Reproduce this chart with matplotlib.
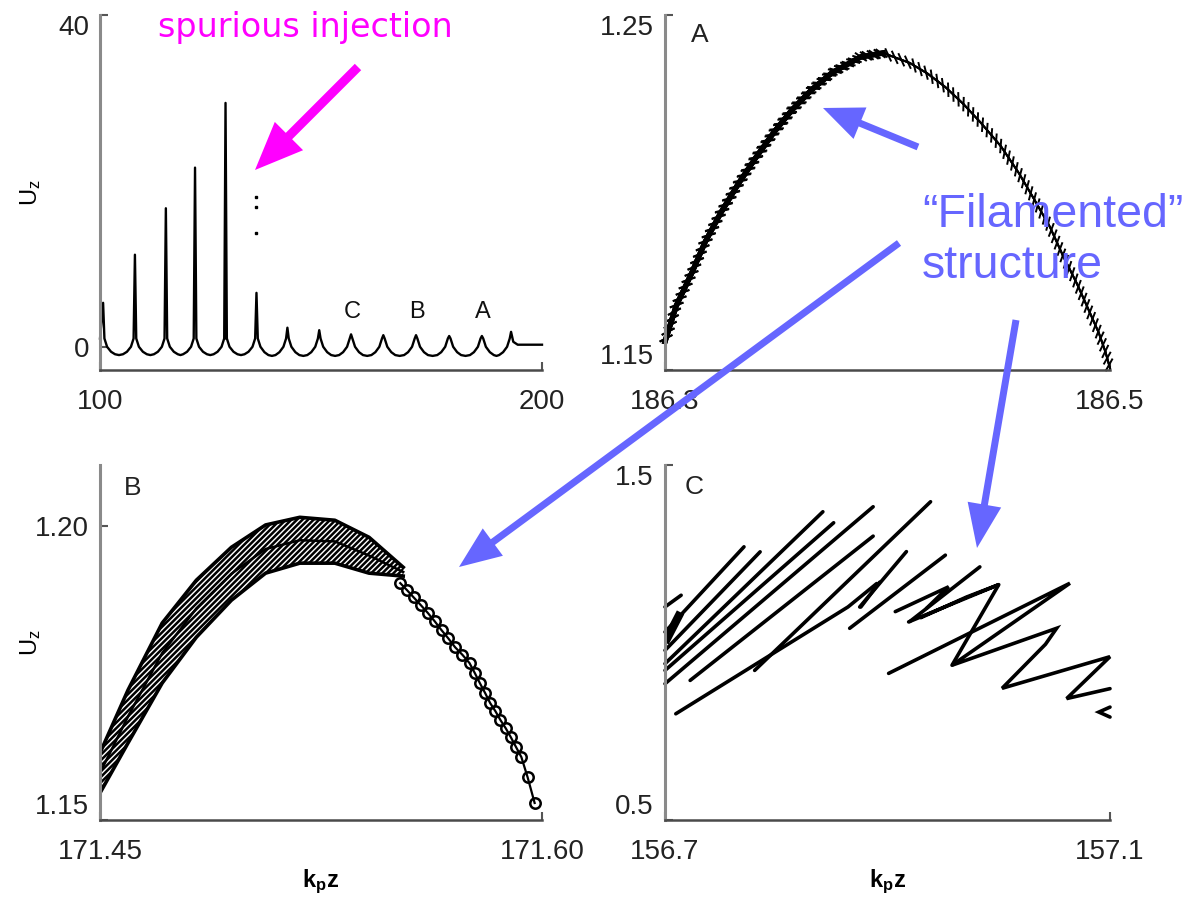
import matplotlib
matplotlib.use('Agg')
import matplotlib.pyplot as plt
from matplotlib import patheffects
from matplotlib.patches import FancyArrow
from matplotlib.transforms import IdentityTransform

plt.rcParams['font.family'] = ['Liberation Sans', 'DejaVu Sans']
plt.rcParams['hatch.linewidth'] = 1.8

# ==== overview: u_z against k_p z (cusps and rounded troughs) ====
main_x = [100.0, 100.7,
          101.0, 101.6, 102.5, 103.4, 104.3, 105.2, 106.1, 107.0, 107.6, 107.9,
          108.2, 108.8, 109.7, 110.6, 111.4, 112.2, 113.1, 114.0, 114.6, 114.9,
          115.2, 115.8, 116.7, 117.6, 118.2, 118.8, 119.7, 120.6, 121.2, 121.5,
          121.8, 122.4, 123.3, 124.2, 124.95, 125.7, 126.6, 127.5, 128.1, 128.4,
          128.7, 129.3, 130.2, 131.1, 131.9, 132.7, 133.6, 134.5, 135.1, 135.4,
          135.7, 136.3, 137.2, 138.1, 138.9, 139.7, 140.6, 141.5, 142.1, 142.4,
          142.7, 143.3, 144.2, 145.1, 146.0, 146.9, 147.8, 148.7, 149.3, 149.6,
          149.9, 150.5, 151.4, 152.3, 153.2, 154.1, 155.0, 155.9, 156.5, 156.8,
          157.1, 157.7, 158.6, 159.5, 160.45, 161.4, 162.3, 163.2, 163.8, 164.1,
          164.4, 165.0, 165.9, 166.8, 167.8, 168.8, 169.7, 170.6, 171.2, 171.5,
          171.8, 172.4, 173.3, 174.2, 175.25, 176.3, 177.2, 178.1, 178.7, 179.0,
          179.3, 179.9, 180.8, 181.7, 182.7, 183.7, 184.6, 185.5, 186.1, 186.4,
          186.7, 187.3, 188.2, 189.1, 189.7, 190.3, 191.2, 192.1, 192.7, 193.0,
          193.5, 194.5, 200.0]
main_y = [1.0, 5.3,
          1.0, 0.0, -0.6, -0.9, -1.0, -0.9, -0.6, 0.0, 1.0, 11.1,
          1.0, 0.0, -0.6, -0.9, -1.0, -0.9, -0.6, 0.0, 1.0, 16.7,
          1.0, 0.0, -0.6, -0.9, -1.0, -0.9, -0.6, 0.0, 1.0, 21.6,
          1.0, 0.0, -0.6, -0.9, -1.0, -0.9, -0.6, 0.0, 1.0, 29.4,
          1.0, 0.0, -0.6, -0.9, -1.0, -0.9, -0.6, 0.0, 1.0, 6.5,
          1.0, 0.0, -0.65, -1.0, -1.1, -1.0, -0.65, 0.0, 1.0, 2.3,
          1.0, 0.0, -0.65, -1.0, -1.1, -1.0, -0.65, 0.0, 1.0, 2.0,
          1.0, 0.0, -0.65, -1.0, -1.1, -1.0, -0.65, 0.0, 1.0, 1.5,
          1.0, 0.0, -0.65, -1.0, -1.1, -1.0, -0.65, 0.0, 1.0, 1.4,
          1.0, 0.0, -0.65, -1.0, -1.1, -1.0, -0.65, 0.0, 1.0, 1.4,
          1.0, 0.0, -0.65, -1.0, -1.1, -1.0, -0.65, 0.0, 1.0, 1.3,
          1.0, 0.0, -0.65, -1.0, -1.1, -1.0, -0.65, 0.0, 1.0, 1.3,
          1.0, 0.0, -0.65, -1.0, -1.1, -1.0, -0.65, 0.0, 1.0, 1.8,
          0.6, 0.25, 0.25]
inner_spike_x = [128.25, 128.35, 128.5]
inner_spike_y = [1.0, 18.7, 1.0]
spurious_x = [135.4, 135.4, 135.4]
spurious_y = [18.0, 16.9, 13.7]
zoom_tags = ['C', 'B', 'A']
zoom_tag_x = [157.0, 171.7, 186.7]
zoom_tag_y = 4.2

# ==== A: 186.3 - 186.5 ====
a_x = [186.300, 186.305, 186.312, 186.318, 186.325, 186.333, 186.341,
       186.349, 186.357, 186.366, 186.375, 186.388, 186.398, 186.410,
       186.418, 186.426, 186.434, 186.442, 186.451, 186.459, 186.466,
       186.473, 186.479, 186.485, 186.490, 186.495, 186.498, 186.500]
a_y = [1.158, 1.168, 1.1773, 1.186, 1.1942, 1.2025, 1.210,
       1.217, 1.2232, 1.229, 1.2337, 1.2382, 1.2393, 1.2365,
       1.2335, 1.2297, 1.225, 1.2196, 1.213, 1.2055, 1.198,
       1.1903, 1.182, 1.1745, 1.1675, 1.1604, 1.155, 1.1505]
a_thick_end = 13   # band is doubled up to about the top of the arc

# ==== B: 171.45 - 171.60 ====
b_x = [171.45, 171.4595, 171.4711, 171.4827, 171.4946, 171.5062,
       171.5178, 171.5297, 171.5413, 171.5529]
b_upper = [1.1614, 1.1721, 1.1835, 1.1908, 1.1964, 1.2002,
           1.2015, 1.2010, 1.1981, 1.1930]
b_mid = [1.1580, 1.1676, 1.1784, 1.1860, 1.1919, 1.1961,
         1.1976, 1.1974, 1.1950, 1.1922]
b_lower = [1.1546, 1.1631, 1.1733, 1.1811, 1.1874, 1.1920,
           1.1937, 1.1937, 1.1920, 1.1915]
b_loop_x = [171.5519, 171.5542, 171.5564, 171.5588, 171.5613, 171.5636,
            171.5659, 171.5682, 171.5705, 171.5730, 171.5754, 171.5772,
            171.5789, 171.5807, 171.5824, 171.5842, 171.5859, 171.5877,
            171.5894, 171.5912, 171.5930, 171.5951, 171.5975]
b_loop_y = [1.1903, 1.1891, 1.1879, 1.1866, 1.1852, 1.1838,
            1.1823, 1.1809, 1.1794, 1.1781, 1.1767, 1.1750,
            1.1733, 1.1716, 1.1699, 1.1685, 1.1670, 1.1656,
            1.1641, 1.1624, 1.1607, 1.1573, 1.1529]

# ==== C: 156.7 - 157.1 (strokes as polylines) ====
c_strokes = [
    ([156.7, 156.7145], [1.1002, 1.1331]),
    ([156.7, 156.7710], [1.0296, 1.2695]),
    ([156.7, 156.7855], [0.9779, 1.2554]),
    ([156.7, 156.8419], [0.9403, 1.3683]),
    ([156.7, 156.8516], [0.9214, 1.3373]),
    ([156.7, 156.8871], [0.8838, 1.3824]),
    ([156.7226, 156.8871], [0.8932, 1.2996]),
    ([156.7806, 156.9387], [0.9214, 1.3965]),
    ([156.7097, 156.8645, 156.8903], [0.7992, 1.1002, 1.1660]),
    ([156.876, 156.893], [1.100, 1.170]),
    ([156.866, 156.952], [1.040, 1.246]),
    ([156.875, 156.917], [1.100, 1.256]),
    ([156.920, 156.983], [1.059, 1.213]),
    ([156.907, 156.955, 156.935], [1.087, 1.157, 1.096]),
    ([156.919, 157.000, 156.971, 156.930], [1.058, 1.163, 1.128, 1.070]),
    ([157.000, 156.958], [1.163, 0.936]),
    ([156.901, 157.064, 156.958, 157.052, 157.042, 157.003, 157.100, 157.061, 157.100],
     [0.913, 1.167, 0.936, 1.040, 0.995, 0.871, 0.960, 0.842, 0.870]),
    ([157.100, 157.090, 157.100], [0.818, 0.804, 0.790]),
]
c_blob_x = [156.7, 156.714]
c_blob_y = [1.00, 1.085]

W, H = 1188, 899
fig = plt.figure(figsize=(W / 100, H / 100), dpi=100)


def box(left, top, right, bottom):
    return [left / W, 1 - bottom / H, (right - left) / W, (bottom - top) / H]


def style_axes(ax, xlim, ylim, xticks, yticks, xlabels, ylabels):
    ax.set_xlim(*xlim)
    ax.set_ylim(*ylim)
    for s in ['top', 'right']:
        ax.spines[s].set_visible(False)
    ax.spines['left'].set_color('#8a8a8a')
    ax.spines['left'].set_linewidth(2.2)
    ax.spines['bottom'].set_color('#4a4a4a')
    ax.spines['bottom'].set_linewidth(1.8)
    ax.set_xticks(xticks)
    ax.set_xticklabels(xlabels)
    ax.set_yticks(yticks)
    ax.set_yticklabels(ylabels)
    ax.tick_params(direction='in', length=6, width=1.5, color='#555555',
                   labelsize=20, labelcolor='#222222')
    ax.tick_params(axis='x', pad=14)
    ax.tick_params(axis='y', pad=8)
    # end labels sit inside the axis span, like the original
    for lab, val in zip(ax.get_yticklabels(), yticks):
        if val == ylim[1]:
            lab.set_va('top')
        elif val == ylim[0]:
            lab.set_va('bottom')


def ylab(ax):
    ax.set_ylabel(r'$\mathregular{U_z}$', fontsize=17)
    ax.yaxis.set_label_coords(-0.13, 0.5)


def xlab(ax):
    ax.set_xlabel(r'$\mathregular{k_pz}$', fontsize=17, fontweight='bold')
    ax.xaxis.set_label_coords(0.5, -0.135)


# ---- overview ----
ax1 = fig.add_axes(box(100, 15, 542, 370))
ax1.plot(main_x, main_y, color='black', lw=1.7, solid_joinstyle='round', clip_on=False)
ax1.plot(inner_spike_x, inner_spike_y, color='black', lw=1.3)
ax1.plot(spurious_x, spurious_y, ls='none', marker='s', ms=2, color='black')
for t, x in zip(zoom_tags, zoom_tag_x):
    ax1.text(x, zoom_tag_y, t, fontsize=17, ha='center', va='center', color='#111111')
style_axes(ax1, (100, 200), (-2.8, 40), [100, 200], [0, 40], ['100', '200'], ['0', '40'])
ylab(ax1)

# ---- A ----
axA = fig.add_axes(box(665, 15, 1110, 370))
teeth = [patheffects.withTickedStroke(spacing=5, angle=135, length=0.9, linewidth=1.4),
         patheffects.withTickedStroke(spacing=5, angle=-45, length=0.9, linewidth=1.4),
         patheffects.Normal()]
axA.plot(a_x[:a_thick_end], a_y[:a_thick_end], color='black', lw=3.8,
         path_effects=teeth, clip_on=False)
axA.plot(a_x, a_y, color='black', lw=1.4, path_effects=teeth, clip_on=False)
axA.text(0.079, 0.944, 'A', transform=axA.transAxes, fontsize=19,
         ha='center', va='center', color='#222222')
style_axes(axA, (186.3, 186.5), (1.15, 1.25), [186.3, 186.5], [1.15, 1.25],
           ['186.3', '186.5'], ['1.15', '1.25'])

# ---- B ----
axB = fig.add_axes(box(100, 465, 542, 820))
axB.fill_between(b_x, b_lower, b_upper, facecolor='none', edgecolor='black',
                 hatch='//////', linewidth=0)
axB.plot(b_x, b_upper, color='black', lw=2.6)
axB.plot(b_x, b_mid, color='black', lw=1.8)
axB.plot(b_x, b_lower, color='black', lw=2.6)
axB.plot(b_loop_x, b_loop_y, color='black', lw=1.6, marker='o', ms=7.5,
         mfc='none', mec='black', mew=1.8, clip_on=False)
axB.text(0.074, 0.934, 'B', transform=axB.transAxes, fontsize=19,
         ha='center', va='center', color='#222222')
style_axes(axB, (171.45, 171.60), (1.15, 1.2104), [171.45, 171.60], [1.15, 1.20],
           ['171.45', '171.60'], ['1.15', '1.20'])
ylab(axB)
xlab(axB)

# ---- C ----
axC = fig.add_axes(box(665, 465, 1110, 820))
for sx, sy in c_strokes:
    axC.plot(sx, sy, color='black', lw=2.6, solid_capstyle='round',
             solid_joinstyle='miter', clip_on=False)
axC.plot(c_blob_x, c_blob_y, color='black', lw=6, solid_capstyle='butt')
axC.text(0.065, 0.939, 'C', transform=axC.transAxes, fontsize=19,
         ha='center', va='center', color='#222222')
style_axes(axC, (156.7, 157.1), (0.5, 1.5), [156.7, 157.1], [0.5, 1.5],
           ['156.7', '157.1'], ['0.5', '1.5'])
xlab(axC)

# ---- annotations (figure pixels, origin top-left) ----
def arrow(x0, y0, x1, y1, color, width, head_w, head_l):
    fig.add_artist(FancyArrow(x0, H - y0, x1 - x0, y0 - y1, width=width,
                              head_width=head_w, head_length=head_l,
                              length_includes_head=True, color=color, lw=0,
                              transform=IdentityTransform()))


magenta = '#ff00ff'
blue = '#6666ff'
fig.text(305 / W, 1 - 27 / H, 'spurious injection', color=magenta, fontsize=24,
         family='DejaVu Sans', ha='center', va='center')
arrow(358, 67, 255, 170, magenta, 9, 40, 48)

fig.text(922 / W, 1 - 227 / H, '\u201cFilamented\u201d', color=blue, fontsize=33.5,
         ha='left', va='baseline')
fig.text(922 / W, 1 - 278 / H, 'structure', color=blue, fontsize=33.5,
         ha='left', va='baseline')
arrow(918, 147, 823, 108, blue, 7, 34, 40)
arrow(899, 243, 459, 567, blue, 7, 34, 42)
arrow(1016, 320, 977, 548, blue, 7, 34, 44)

fig.savefig('out.png', dpi=100)
